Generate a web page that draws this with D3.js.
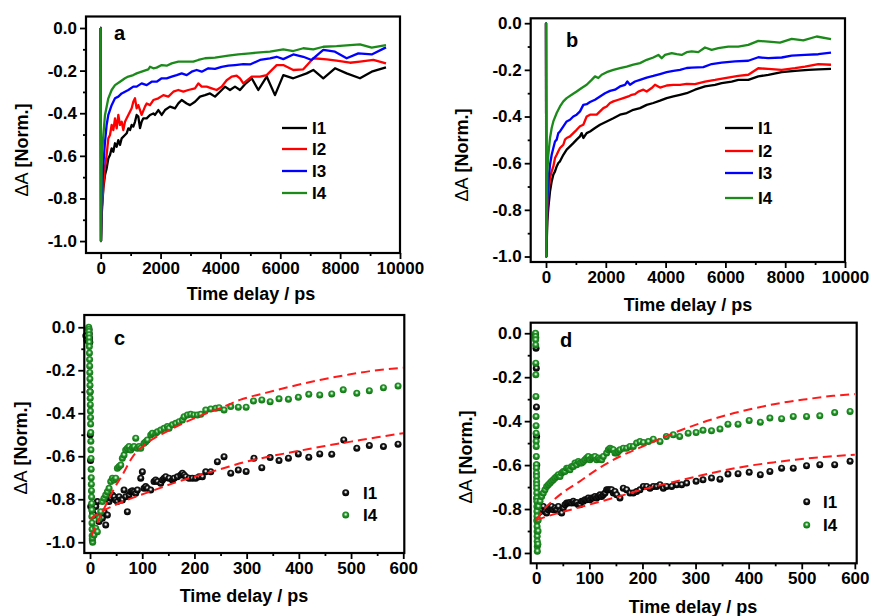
<!DOCTYPE html>
<html><head><meta charset="utf-8">
<script src="https://cdn.jsdelivr.net/npm/d3@7"></script>
<style>
body{margin:0;background:#fff;}
text{font-family:"Liberation Sans",Arial,sans-serif;}
</style></head><body>
<svg id="chart" width="873" height="616"></svg>
<script>
// ---------------- DATA ----------------
const seriesNames = ["I1","I2","I3","I4"];
const scatterNames = ["I1","I4"];
const xTicksLong = [0,2000,4000,6000,8000,10000];
const xMinorLong = [1000,3000,5000,7000,9000];
const xTicksShort = [0,100,200,300,400,500,600];
const xMinorShort = [50,150,250,350,450,550];
const yTicks = [0,-0.2,-0.4,-0.6,-0.8,-1.0];
const yMinor = [-0.1,-0.3,-0.5,-0.7,-0.9];

// panel a (time ps, normalized dA)
const aI1 = [[-10,0],[0,0],[10,-1],[40,-0.86],[88,-0.753],[144,-0.690],[199,-0.659],[255,-0.612],[311,-0.596],[366,-0.565],[422,-0.581],[478,-0.541],[534,-0.557],[589,-0.526],[645,-0.549],[701,-0.518],[812,-0.502],[868,-0.494],[923,-0.471],[979,-0.479],[1035,-0.455],[1090,-0.463],[1146,-0.440],[1201,-0.408],[1257,-0.416],[1313,-0.470],[1368,-0.440],[1424,-0.424],[1536,-0.424],[1647,-0.408],[1759,-0.401],[1814,-0.408],[1926,-0.385],[2038,-0.408],[2148,-0.385],[2315,-0.369],[2483,-0.377],[2594,-0.354],[2706,-0.338],[2873,-0.354],[2984,-0.362],[3151,-0.346],[3318,-0.322],[3485,-0.315],[3652,-0.307],[3819,-0.322],[3986,-0.299],[4153,-0.275],[4320,-0.291],[4487,-0.275],[4654,-0.291],[4821,-0.264],[5045,-0.236],[5266,-0.291],[5546,-0.228],[5823,-0.315],[6101,-0.221],[6435,-0.236],[6881,-0.213],[7103,-0.197],[7437,-0.236],[7828,-0.189],[8218,-0.213],[8663,-0.236],[9054,-0.205],[9532,-0.185]];
const aI2 = [[-10,0],[0,0],[10,-1],[30,-0.85],[55,-0.815],[122,-0.675],[199,-0.596],[255,-0.518],[311,-0.502],[366,-0.455],[422,-0.479],[478,-0.424],[534,-0.471],[589,-0.408],[645,-0.455],[701,-0.440],[756,-0.479],[812,-0.440],[868,-0.424],[923,-0.408],[1035,-0.377],[1090,-0.346],[1146,-0.330],[1201,-0.377],[1257,-0.362],[1368,-0.408],[1480,-0.369],[1536,-0.354],[1647,-0.362],[1759,-0.338],[1926,-0.330],[2093,-0.315],[2260,-0.322],[2427,-0.299],[2594,-0.291],[2761,-0.299],[2928,-0.291],[3151,-0.283],[3262,-0.260],[3375,-0.275],[3541,-0.275],[3708,-0.283],[3875,-0.291],[4042,-0.275],[4209,-0.245],[4376,-0.228],[4543,-0.224],[4654,-0.236],[4765,-0.260],[5045,-0.228],[5322,-0.228],[5546,-0.221],[5879,-0.174],[6101,-0.174],[6435,-0.197],[6769,-0.194],[7103,-0.142],[7551,-0.147],[7882,-0.153],[8329,-0.163],[8663,-0.158],[9108,-0.150],[9532,-0.166]];
const aI3 = [[-10,0],[0,0],[10,-1],[30,-0.80],[88,-0.643],[144,-0.534],[199,-0.455],[255,-0.408],[366,-0.362],[478,-0.330],[589,-0.322],[701,-0.307],[812,-0.299],[923,-0.291],[1090,-0.275],[1201,-0.275],[1368,-0.260],[1536,-0.268],[1703,-0.252],[1870,-0.252],[2038,-0.236],[2205,-0.236],[2372,-0.228],[2538,-0.221],[2706,-0.213],[2873,-0.221],[3040,-0.205],[3207,-0.197],[3375,-0.205],[3596,-0.189],[3819,-0.192],[4042,-0.182],[4264,-0.177],[4487,-0.174],[4765,-0.170],[4988,-0.171],[5322,-0.150],[5656,-0.142],[5879,-0.135],[6101,-0.146],[6435,-0.124],[6769,-0.135],[7047,-0.150],[7437,-0.103],[7828,-0.111],[8218,-0.142],[8607,-0.119],[9054,-0.124],[9532,-0.091]];
const aI4 = [[-10,0],[0,0],[10,-1],[32,-0.628],[88,-0.502],[144,-0.408],[255,-0.330],[366,-0.291],[478,-0.268],[645,-0.252],[812,-0.236],[923,-0.228],[1090,-0.221],[1201,-0.213],[1368,-0.205],[1591,-0.194],[1647,-0.182],[1759,-0.189],[1870,-0.186],[2038,-0.174],[2205,-0.177],[2372,-0.166],[2594,-0.158],[3095,-0.158],[3262,-0.150],[3485,-0.142],[3819,-0.139],[4264,-0.130],[4598,-0.124],[4988,-0.119],[5322,-0.114],[5656,-0.111],[6101,-0.100],[6435,-0.108],[6769,-0.095],[7103,-0.100],[7437,-0.088],[7882,-0.085],[8329,-0.080],[8663,-0.077],[9054,-0.092],[9532,-0.080]];

// panel b
const bI1 = [[-10,0],[0,0],[10,-1],[45,-0.849],[78,-0.792],[134,-0.721],[190,-0.678],[245,-0.649],[301,-0.635],[357,-0.614],[412,-0.599],[468,-0.592],[580,-0.564],[691,-0.542],[803,-0.528],[913,-0.514],[1025,-0.499],[1137,-0.485],[1192,-0.471],[1248,-0.492],[1360,-0.471],[1472,-0.464],[1639,-0.449],[1806,-0.435],[2029,-0.421],[2252,-0.407],[2475,-0.392],[2698,-0.385],[2921,-0.371],[3144,-0.364],[3367,-0.350],[3589,-0.342],[3813,-0.332],[4036,-0.321],[4259,-0.314],[4482,-0.307],[4705,-0.300],[4983,-0.285],[5318,-0.271],[5652,-0.264],[5875,-0.257],[6210,-0.250],[6431,-0.243],[6766,-0.243],[7100,-0.228],[7435,-0.221],[7883,-0.210],[8328,-0.204],[8773,-0.200],[9107,-0.198],[9532,-0.196]];
const bI2 = [[-10,0],[0,0],[10,-1],[45,-0.792],[78,-0.735],[134,-0.663],[190,-0.635],[245,-0.614],[301,-0.578],[357,-0.564],[412,-0.549],[468,-0.535],[524,-0.528],[580,-0.521],[635,-0.499],[691,-0.492],[803,-0.485],[913,-0.471],[1025,-0.457],[1137,-0.442],[1248,-0.435],[1360,-0.400],[1472,-0.392],[1583,-0.392],[1695,-0.392],[1806,-0.378],[1918,-0.364],[2029,-0.357],[2140,-0.342],[2252,-0.335],[2419,-0.328],[2586,-0.321],[2754,-0.314],[2865,-0.307],[2977,-0.304],[3088,-0.293],[3256,-0.285],[3367,-0.293],[3534,-0.278],[3645,-0.264],[3813,-0.276],[4036,-0.267],[4259,-0.264],[4482,-0.264],[4705,-0.260],[4983,-0.261],[5318,-0.250],[5652,-0.243],[5987,-0.235],[6431,-0.226],[6766,-0.221],[7100,-0.193],[7435,-0.196],[7883,-0.200],[8328,-0.193],[8662,-0.186],[9107,-0.175],[9532,-0.178]];
const bI3 = [[-10,0],[0,0],[10,-1],[45,-0.763],[78,-0.678],[134,-0.606],[190,-0.564],[245,-0.535],[301,-0.507],[357,-0.499],[412,-0.471],[468,-0.464],[580,-0.442],[691,-0.421],[803,-0.414],[913,-0.400],[1025,-0.392],[1137,-0.378],[1248,-0.350],[1360,-0.347],[1472,-0.338],[1639,-0.328],[1806,-0.314],[1973,-0.300],[2140,-0.290],[2308,-0.285],[2475,-0.271],[2642,-0.264],[2720,-0.250],[2809,-0.264],[2977,-0.250],[3144,-0.243],[3367,-0.233],[3589,-0.226],[3813,-0.218],[4036,-0.210],[4259,-0.204],[4482,-0.200],[4705,-0.192],[4872,-0.190],[5261,-0.188],[5541,-0.175],[5875,-0.169],[6321,-0.164],[6766,-0.161],[7100,-0.146],[7435,-0.150],[7883,-0.147],[8217,-0.139],[8662,-0.136],[9107,-0.133],[9532,-0.126]];
const bI4 = [[-10,0],[0,0],[10,-1],[45,-0.635],[78,-0.564],[134,-0.492],[190,-0.449],[245,-0.421],[357,-0.385],[468,-0.357],[580,-0.335],[691,-0.321],[858,-0.307],[1025,-0.293],[1192,-0.278],[1360,-0.264],[1527,-0.243],[1639,-0.228],[1750,-0.235],[1862,-0.221],[2029,-0.210],[2252,-0.200],[2475,-0.193],[2698,-0.186],[2921,-0.178],[3144,-0.171],[3367,-0.157],[3589,-0.147],[3757,-0.136],[3869,-0.150],[3980,-0.136],[4204,-0.128],[4371,-0.133],[4538,-0.136],[4705,-0.124],[4872,-0.121],[5094,-0.124],[5318,-0.104],[5541,-0.114],[5764,-0.107],[6097,-0.100],[6431,-0.100],[6766,-0.093],[7100,-0.076],[7435,-0.079],[7826,-0.083],[8217,-0.067],[8606,-0.074],[9053,-0.057],[9532,-0.068]];

// panel c (scatter + fits)
const cI1 = [[-8,-0.04],[-6,-0.06],[-2,-0.01],[-1.5,-0.03],[-1,-0.05],[-0.5,-0.07],[0,-0.3],[0.5,-0.5],[1,-0.62],[1.3,-0.834],[4.5,-0.858],[7.7,-0.873],[10.9,-0.834],[14.0,-0.811],[17.2,-0.904],[20.4,-0.873],[23.6,-0.888],[26.8,-0.858],[30.0,-0.920],[33.2,-0.873],[36.4,-0.811],[39.6,-0.795],[42.8,-0.780],[46.0,-0.788],[49.2,-0.803],[52.4,-0.811],[55.6,-0.788],[58.8,-0.803],[61.9,-0.803],[65.1,-0.757],[68.3,-0.788],[71.5,-0.858],[74.7,-0.780],[77.9,-0.765],[81.1,-0.761],[84.3,-0.765],[87.5,-0.772],[90.7,-0.757],[97.1,-0.702],[100.2,-0.672],[103.4,-0.749],[106.6,-0.741],[109.8,-0.749],[116.2,-0.757],[122.6,-0.718],[125.8,-0.710],[129.0,-0.718],[135.4,-0.726],[138.6,-0.710],[141.8,-0.702],[145.0,-0.695],[151.3,-0.702],[157.7,-0.710],[160.9,-0.702],[167.3,-0.695],[173.7,-0.687],[176.9,-0.679],[180.1,-0.687],[183.3,-0.695],[189.7,-0.702],[196.0,-0.702],[202.4,-0.702],[208.8,-0.695],[215.2,-0.695],[221.6,-0.672],[231.2,-0.672],[243.9,-0.625],[256.7,-0.602],[269.5,-0.679],[284,-0.664],[299,-0.671],[314,-0.609],[329,-0.653],[345,-0.606],[362,-0.620],[380,-0.609],[399,-0.589],[419,-0.605],[440,-0.589],[463,-0.591],[486,-0.524],[511,-0.563],[535,-0.550],[562,-0.555],[590,-0.544]];
const cI4 = [[-2.5,0],[-2.3,-0.01],[-2.1,-0.02],[-1.9,-0.035],[-1.7,-0.05],[-1.5,-0.07],[-1.3,-0.09],[-1.1,-0.12],[-0.9,-0.15],[-0.7,-0.18],[-0.5,-0.21],[-0.3,-0.24],[-0.1,-0.27],[0.1,-0.30],[0.3,-0.33],[0.5,-0.36],[0.7,-0.39],[0.9,-0.42],[1.1,-0.45],[1.3,-0.49],[1.5,-0.53],[1.7,-0.57],[1.9,-0.61],[2.1,-0.66],[2.3,-0.70],[2.5,-0.73],[2.7,-0.76],[2.9,-0.79],[3.1,-0.82],[3.3,-0.85],[3.5,-0.88],[3.7,-0.91],[3.9,-0.94],[4.1,-0.97],[4.3,-0.99],[5,-1.0],[4.5,-0.981],[7.7,-0.966],[10.9,-0.935],[14.0,-0.951],[17.2,-0.888],[20.4,-0.858],[23.6,-0.811],[26.8,-0.795],[30.0,-0.780],[33.2,-0.765],[36.4,-0.749],[39.6,-0.718],[42.8,-0.702],[46.0,-0.710],[49.2,-0.702],[52.4,-0.656],[55.6,-0.648],[58.8,-0.641],[61.9,-0.609],[65.1,-0.594],[68.3,-0.571],[71.5,-0.563],[74.7,-0.555],[77.9,-0.571],[81.1,-0.560],[84.3,-0.555],[87.5,-0.516],[90.7,-0.563],[93.9,-0.555],[97.1,-0.563],[103.4,-0.540],[106.6,-0.532],[109.8,-0.524],[116.2,-0.501],[119.4,-0.493],[125.8,-0.493],[129.0,-0.486],[135.4,-0.478],[141.8,-0.470],[148.1,-0.462],[151.3,-0.470],[157.7,-0.454],[164.1,-0.447],[170.5,-0.439],[176.9,-0.431],[180.1,-0.416],[186.5,-0.408],[192.8,-0.405],[199.2,-0.408],[205.6,-0.408],[212.0,-0.405],[221.6,-0.385],[231.2,-0.380],[240.7,-0.377],[247.1,-0.374],[256.7,-0.385],[269.5,-0.369],[284,-0.372],[299,-0.372],[313,-0.343],[329,-0.338],[345,-0.346],[362,-0.333],[380,-0.335],[399,-0.326],[419,-0.312],[440,-0.315],[463,-0.310],[485,-0.291],[511,-0.307],[535,-0.295],[562,-0.281],[590,-0.273]];
const cFitI1 = [[1,-0.89],[20,-0.86],[45,-0.83],[80,-0.795],[120,-0.76],[160,-0.725],[200,-0.695],[250,-0.66],[300,-0.625],[350,-0.598],[400,-0.575],[450,-0.552],[500,-0.532],[550,-0.512],[600,-0.493]];
const cFitI4 = [[3,-0.97],[5.1,-0.958],[19.1,-0.881],[31.9,-0.819],[44.7,-0.757],[63.8,-0.679],[79.8,-0.609],[108.5,-0.540],[146.8,-0.485],[185.1,-0.439],[223.4,-0.400],[248.9,-0.377],[287.2,-0.338],[338.2,-0.304],[389.3,-0.273],[440.3,-0.245],[491.4,-0.222],[542.4,-0.202],[600,-0.188]];

// panel d
const dI1 = [[-1.5,-0.005],[-1,-0.02],[-0.5,-0.068],[0,-0.159],[0.3,-0.336],[0.6,-0.47],[0.9,-0.6],[1.2,-0.75],[1.5,-0.85],[3.8,-0.818],[7.0,-0.811],[10.1,-0.803],[13.2,-0.788],[16.4,-0.811],[19.5,-0.818],[22.7,-0.803],[25.8,-0.795],[28.9,-0.788],[32.1,-0.803],[35.2,-0.795],[38.4,-0.803],[41.5,-0.788],[44.6,-0.811],[47.8,-0.818],[50.9,-0.795],[54.0,-0.780],[57.2,-0.773],[60.3,-0.773],[63.5,-0.770],[66.6,-0.773],[69.7,-0.765],[72.9,-0.773],[76.0,-0.770],[79.2,-0.780],[82.3,-0.780],[85.4,-0.765],[88.6,-0.765],[91.7,-0.758],[94.9,-0.758],[98.0,-0.750],[101.1,-0.758],[104.3,-0.750],[107.4,-0.750],[110.5,-0.743],[113.7,-0.750],[116.8,-0.743],[120.0,-0.735],[123.1,-0.743],[126.2,-0.735],[129.4,-0.727],[132.5,-0.712],[135.7,-0.712],[138.8,-0.712],[141.9,-0.712],[145.1,-0.727],[148.2,-0.720],[151.4,-0.735],[157.6,-0.750],[163.9,-0.705],[170.2,-0.712],[176.5,-0.727],[182.7,-0.727],[189.0,-0.720],[195.3,-0.712],[201.6,-0.697],[207.9,-0.697],[214.2,-0.705],[220.4,-0.697],[226.7,-0.697],[233.0,-0.689],[239.3,-0.705],[245.5,-0.697],[255.0,-0.697],[264.4,-0.689],[273.8,-0.689],[283.2,-0.682],[301,-0.674],[314,-0.667],[330,-0.659],[346,-0.664],[361,-0.641],[380,-0.639],[401,-0.633],[422,-0.644],[440,-0.629],[462,-0.614],[484,-0.614],[509,-0.603],[534,-0.598],[562,-0.598],[591,-0.583]];
const dI4 = [[-1.5,0],[-1.4,-0.015],[-1.3,-0.030],[-1.2,-0.053],[-1.0,-0.136],[-0.9,-0.189],[-0.7,-0.288],[-0.5,-0.379],[-0.4,-0.421],[-0.3,-0.455],[-0.2,-0.492],[-0.1,-0.515],[0,-0.561],[0.1,-0.598],[0.2,-0.614],[0.3,-0.636],[0.4,-0.652],[0.5,-0.674],[0.6,-0.689],[0.7,-0.705],[0.8,-0.727],[0.9,-0.750],[1.0,-0.765],[1.1,-0.788],[1.2,-0.811],[1.3,-0.833],[1.4,-0.856],[1.5,-0.879],[1.6,-0.902],[1.7,-0.924],[1.8,-0.947],[1.9,-0.970],[2.0,-0.992],[3.0,-0.96],[3.3,-0.90],[3.6,-0.85],[3.8,-0.788],[7.0,-0.765],[10.1,-0.743],[13.2,-0.727],[16.4,-0.712],[19.5,-0.697],[22.7,-0.689],[25.8,-0.682],[28.9,-0.674],[32.1,-0.667],[35.2,-0.659],[38.4,-0.652],[41.5,-0.644],[44.6,-0.652],[47.8,-0.636],[50.9,-0.629],[54.0,-0.629],[57.2,-0.614],[60.3,-0.614],[63.5,-0.621],[66.6,-0.606],[69.7,-0.606],[72.9,-0.591],[76.0,-0.599],[79.2,-0.584],[82.3,-0.591],[85.4,-0.591],[88.6,-0.584],[91.7,-0.576],[94.9,-0.568],[98.0,-0.561],[101.1,-0.576],[104.3,-0.568],[107.4,-0.564],[110.5,-0.561],[113.7,-0.576],[116.8,-0.568],[120.0,-0.573],[123.1,-0.576],[126.2,-0.561],[132.5,-0.545],[135.7,-0.530],[138.8,-0.523],[141.9,-0.527],[145.1,-0.530],[148.2,-0.545],[151.4,-0.545],[154.5,-0.538],[157.6,-0.530],[163.9,-0.523],[170.2,-0.523],[176.5,-0.515],[182.7,-0.515],[189.0,-0.500],[195.3,-0.493],[201.6,-0.497],[211.0,-0.493],[220.4,-0.482],[233.0,-0.493],[245,-0.470],[258,-0.462],[270,-0.470],[286,-0.455],[301,-0.452],[314,-0.442],[330,-0.444],[346,-0.436],[361,-0.414],[380,-0.414],[401,-0.397],[422,-0.405],[440,-0.386],[462,-0.389],[484,-0.379],[509,-0.379],[534,-0.376],[562,-0.361],[591,-0.356]];
const dFitI1 = [[0,-0.85],[25,-0.83],[70,-0.80],[107,-0.775],[145,-0.75],[195,-0.715],[245,-0.685],[296,-0.655],[346,-0.628],[396,-0.605],[446,-0.588],[496,-0.573],[547,-0.562],[600,-0.553]];
const dFitI4 = [[0,-0.85],[15,-0.80],[30,-0.765],[50,-0.725],[82,-0.674],[113.6,-0.621],[157.5,-0.561],[207.7,-0.508],[258,-0.455],[308,-0.410],[358,-0.373],[408.6,-0.343],[458.8,-0.318],[509,-0.300],[559,-0.285],[600,-0.277]];

// ---------------- DRAWING ----------------
const colors = {I1:"#000000", I2:"#ff0000", I3:"#0000ff", I4:"#1b8a1b"};
const svg = d3.select("#chart");
const defs = svg.append("defs");
function grad(id, stops){
  const g = defs.append("radialGradient").attr("id",id).attr("cx","50%").attr("cy","42%").attr("r","55%");
  stops.forEach(s=>g.append("stop").attr("offset",s[0]).attr("stop-color",s[1]));
}
grad("gBlack",[["0%","#ffffff"],["18%","#d0d0d0"],["45%","#1a1a1a"],["100%","#000000"]]);
grad("gGreen",[["0%","#ffffff"],["18%","#b8e6b8"],["48%","#22942a"],["100%","#127312"]]);
const markFill = {I1:"url(#gBlack)", I4:"url(#gGreen)"};

const fmt = d => d.toFixed(1);
const FONT = "Liberation Sans, Arial, sans-serif";

function panel(cfg){
  const g = svg.append("g");
  const x = d3.scaleLinear().domain(cfg.xd).range([cfg.x0,cfg.x1]);
  const y = d3.scaleLinear().domain(cfg.yd).range([cfg.y1,cfg.y0]);

  g.append("g").attr("transform",`translate(${cfg.x0},0)`)
    .call(d3.axisLeft(y).tickValues(yTicks).tickFormat(fmt).tickSize(6).tickPadding(3).tickSizeOuter(0));
  g.append("g").attr("transform",`translate(${cfg.x0},0)`)
    .call(d3.axisLeft(y).tickValues(yMinor).tickFormat("").tickSize(3).tickSizeOuter(0));
  g.append("g").attr("transform",`translate(0,${cfg.y1})`)
    .call(d3.axisBottom(x).tickValues(cfg.xMajor).tickFormat(d3.format("d")).tickSize(6).tickPadding(3).tickSizeOuter(0));
  g.append("g").attr("transform",`translate(0,${cfg.y1})`)
    .call(d3.axisBottom(x).tickValues(cfg.xMinor).tickFormat("").tickSize(3).tickSizeOuter(0));
  g.selectAll(".domain").remove();
  g.selectAll(".tick line").attr("stroke","#000").attr("stroke-width",1.8);
  g.selectAll(".tick text").attr("font-family",FONT).attr("font-weight","bold")
    .attr("font-size",17).attr("fill","#000");

  const plot = g.append("g");
  if(cfg.lines){
    cfg.lines.forEach(s=>{
      plot.append("path").datum(s.data)
        .attr("fill","none").attr("stroke",colors[s.name]).attr("stroke-width",2.3)
        .attr("stroke-linejoin","round")
        .attr("d", d3.line().x(d=>x(d[0])).y(d=>y(d[1])));
    });
  }
  if(cfg.points){
    cfg.points.forEach(s=>{
      plot.append("g").selectAll("circle").data(s.data).join("circle")
        .attr("cx",d=>x(d[0])).attr("cy",d=>y(d[1])).attr("r",3.5)
        .attr("fill",markFill[s.name]);
    });
  }
  if(cfg.fits){
    cfg.fits.forEach(f=>{
      plot.append("path").datum(f)
        .attr("fill","none").attr("stroke","#ff1a1a").attr("stroke-width",2)
        .attr("stroke-dasharray","9,5")
        .attr("d", d3.line().curve(d3.curveMonotoneX).x(d=>x(d[0])).y(d=>y(d[1])));
    });
  }

  g.append("rect").attr("x",cfg.x0).attr("y",cfg.y0)
    .attr("width",cfg.x1-cfg.x0).attr("height",cfg.y1-cfg.y0)
    .attr("fill","none").attr("stroke","#000").attr("stroke-width",2.2);

  g.append("text").attr("x",cfg.letter[0]).attr("y",cfg.letter[1])
    .attr("font-family",FONT).attr("font-weight","bold").attr("font-size",20).text(cfg.letter[2]);

  g.append("text").attr("x",cfg.xt[0]).attr("y",cfg.xt[1]).attr("text-anchor","middle")
    .attr("font-family",FONT).attr("font-weight","bold").attr("font-size",18).text("Time delay / ps");
  const yt = g.append("text").attr("transform",`translate(${cfg.yt[0]},${cfg.yt[1]}) rotate(-90)`)
    .attr("text-anchor","middle").attr("font-family",FONT).attr("font-size",18);
  yt.append("tspan").attr("font-weight","normal").text("ΔA");
  yt.append("tspan").attr("font-weight","bold").text(" [Norm.]");

  const lg = cfg.legend;
  lg.rows.forEach((ry,i)=>{
    const name = lg.names[i];
    if(lg.type==="line"){
      g.append("line").attr("x1",lg.lx0).attr("x2",lg.lx1).attr("y1",ry).attr("y2",ry)
        .attr("stroke",colors[name]).attr("stroke-width",2.3);
    } else {
      g.append("circle").attr("cx",lg.mx).attr("cy",ry).attr("r",3.5).attr("fill",markFill[name]);
    }
    g.append("text").attr("x",lg.tx).attr("y",ry+6.3).attr("font-family",FONT)
      .attr("font-weight","bold").attr("font-size",17).text(name);
  });
}

panel({x0:86,x1:400,y0:16.5,y1:253,xd:[-491,10000],yd:[-1.056,0.054],
  xMajor:xTicksLong,xMinor:xMinorLong,
  lines:[{name:"I1",data:aI1},{name:"I2",data:aI2},{name:"I3",data:aI3},{name:"I4",data:aI4}],
  letter:[114,40,"a"], xt:[251,299.5], yt:[28,150],
  legend:{type:"line",names:seriesNames,rows:[128,149,171,193],lx0:282,lx1:307,tx:312}});

panel({x0:530.7,x1:845,y0:18.3,y1:262,xd:[-512,10000],yd:[-1.0235,0.021],
  xMajor:xTicksLong,xMinor:xMinorLong,
  lines:[{name:"I1",data:bI1},{name:"I2",data:bI2},{name:"I3",data:bI3},{name:"I4",data:bI4}],
  letter:[566,46.5,"b"], xt:[688,311], yt:[468,155],
  legend:{type:"line",names:seriesNames,rows:[128,151,173,198],lx0:725,lx1:753,tx:758}});

panel({x0:84.3,x1:404.3,y0:315,y1:553,xd:[-11,602],yd:[-1.05,0.057],
  xMajor:xTicksShort,xMinor:xMinorShort,
  points:[{name:"I1",data:cI1},{name:"I4",data:cI4}],
  fits:[cFitI4,cFitI1],
  letter:[114,345,"c"], xt:[244,601.5], yt:[27,448],
  legend:{type:"pt",names:scatterNames,rows:[492.7,515],mx:345.7,tx:363}});

panel({x0:530.7,x1:856.7,y0:322.7,y1:563.3,xd:[-10.5,603.5],yd:[-1.047,0.048],
  xMajor:xTicksShort,xMinor:xMinorShort,
  points:[{name:"I1",data:dI1},{name:"I4",data:dI4}],
  fits:[dFitI4,dFitI1],
  letter:[560,346.5,"d"], xt:[693,613], yt:[472,457],
  legend:{type:"pt",names:scatterNames,rows:[501.7,525],mx:806.7,tx:823}});
</script>
</body></html>
